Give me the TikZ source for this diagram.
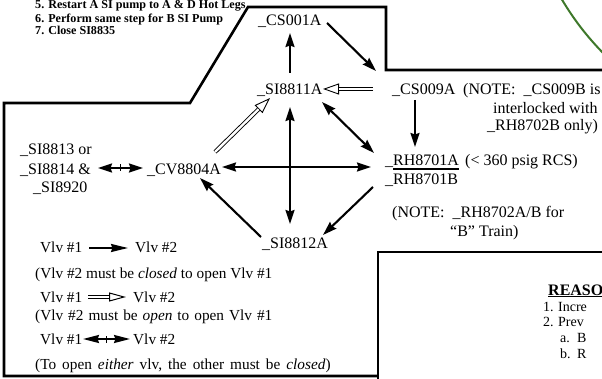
\documentclass[tikz,border=0pt]{standalone}
\usepackage{fontspec}
\setmainfont{Liberation Serif}
\usetikzlibrary{arrows.meta,calc}
\definecolor{arcgreen}{RGB}{62,120,42}
\begin{document}
\begin{tikzpicture}[x=1pt,y=-1pt,
  lbl/.style={inner sep=0pt, font=\fontsize{16}{19}\selectfont, anchor=base west},
  leg/.style={inner sep=0pt, font=\fontsize{15.3}{18}\selectfont, anchor=base west},
  topnote/.style={inner sep=0pt, font=\fontsize{12.1}{14}\selectfont\bfseries, anchor=base west},
  small/.style={inner sep=0pt, font=\fontsize{14}{16}\selectfont, anchor=base west},
  frame/.style={line width=2.6pt, line join=miter},
  arr/.style={line width=2.1pt, -{Stealth[length=14pt,width=9pt,inset=1.5pt]}},
  biarr/.style={line width=2.1pt, {Stealth[length=14pt,width=9pt,inset=1.5pt]}-{Stealth[length=14pt,width=9pt,inset=1.5pt]}},
  legarr/.style={line width=2pt, -{Stealth[length=17pt,width=8pt,inset=1.5pt]}},
  legbi/.style={line width=2pt, {Stealth[length=16pt,width=8pt,inset=1.5pt]}-{Stealth[length=16pt,width=8pt,inset=1.5pt]}},
  ohead/.style={line width=0.9pt, -{Triangle[open,length=16pt,width=11pt]}},
  oshaft/.style={line width=0.9pt, double=white, double distance=2.4pt, shorten >=16pt},
  oheadleg/.style={line width=1pt, -{Triangle[open,length=17pt,width=9pt]}},
  oshaftleg/.style={line width=1pt, double=white, double distance=2.2pt, shorten >=17pt},
  tick/.style={fill=black, inner sep=0pt, minimum width=1.3pt, minimum height=7pt},
]
\useasboundingbox (0,0) rectangle (602,379);
\clip (0,0) rectangle (602,379);

% outline
\draw[frame] (378,376) -- (4,376) -- (4,103) -- (190,103) -- (248,7) -- (386,7) -- (386,70) -- (606,70);
\draw[frame] (606,252) -- (378,252) -- (378,384);
\draw[arcgreen, line width=2pt] (561,-2) .. controls (574,20) and (588,38) .. (606,56);

% top notes
\node[topnote] (t5) at (35,9) {5. Restart A SI pump to A \& D Hot Legs};
\node[topnote] (t6) at (35,22.5) {6. Perform same step for B SI Pump};
\node[topnote] (t7) at (35,35) {7. Close SI8835};

% diagram labels
\node[lbl] (cs001) at (258,26) {\_CS001A};
\node[lbl] (si8811) at (257,95) {\_SI8811A};
\node[lbl] (cs009) at (392,95) {\_CS009A};
\node[lbl] (note1) at (463,95) {(NOTE:\ \ \_CS009B is};
\node[lbl] (note2) at (493,114) {interlocked with};
\node[lbl] (note3) at (487,131) {\_RH8702B only)};
\node[lbl] (rha) at (385,166) {\_RH8701A};
\node[lbl] (psig) at (465,166) {(< 360 psig RCS)};
\node[lbl] (rhb) at (385,185) {\_RH8701B};
\node[lbl] (note4) at (392,218) {(NOTE:\ \ \_RH8702A/B for};
\node[lbl] (note5) at (450,237) {“B” Train)};
\node[lbl] (si8812) at (262,249) {\_SI8812A};
\node[lbl] (cv8804) at (147,175) {\_CV8804A};
\node[lbl] (s13) at (20,155) {\_SI8813 or};
\node[lbl] (s14) at (20,175) {\_SI8814 \&};
\node[lbl] (s20) at (33,193) {\_SI8920};
\draw[line width=1.4pt] ($(rha.base west)+(8,3)$) -- ($(rha.base east)+(0,3)$);

% connectors
\draw[arr] ($(cs001.base west)+(69,-3)$) -- ($(cs009.base west)+(-16,-24)$);
\draw[arr] ($(si8811.base west)+(33,-22)$) -- ($(cs001.base west)+(32,7)$);
\draw[ohead] ($(cs009.base west)+(-19,-6)$) -- ($(si8811.base west)+(66,-6)$);
\draw[oshaft] ($(cs009.base west)+(-19,-6)$) -- ($(si8811.base west)+(66,-6)$);
\draw[biarr] ($(si8811.base west)+(65,7)$) -- ($(rha.base west)+(-11,-13)$);
\draw[ohead] ($(cv8804.base west)+(68,-23)$) -- ($(si8811.base west)+(13,3)$);
\draw[oshaft] ($(cv8804.base west)+(68,-23)$) -- ($(si8811.base west)+(13,3)$);
\draw[biarr] ($(si8811.base west)+(33,12)$) -- ($(si8812.base west)+(28,-25)$);
\draw[biarr] ($(cv8804.base west)+(75,-8)$) -- ($(rha.base west)+(-14,1)$);
\draw[arr] ($(si8812.base west)+(-1,-12)$) -- ($(cv8804.base west)+(53,3)$);
\draw[arr] ($(rha.base west)+(-12,21)$) -- ($(si8812.base west)+(61,-14)$);
\draw[arr] ($(cs009.base west)+(23,5)$) -- ($(rha.base west)+(30,-19)$);
\draw[biarr] ($(s14.base west)+(78,-7)$) -- ($(cv8804.base west)+(-4,-7)$) node[midway, tick] (tk1) {};

% legend
\node[leg] (v1a) at (40,253) {Vlv \#1};
\node[leg] (v2a) at (135,253) {Vlv \#2};
\draw[legarr] ($(v1a.base west)+(49,-5)$) -- ($(v2a.base west)+(-7,-5)$);
\node[leg] (l2) at (35,278) {(Vlv \#2 must be \textit{closed} to open Vlv \#1};
\node[leg] (v1b) at (40,302) {Vlv \#1};
\node[leg] (v2b) at (133,302) {Vlv \#2};
\draw[oheadleg] ($(v1b.base west)+(48,-5)$) -- ($(v2b.base west)+(-7,-5)$);
\draw[oshaftleg] ($(v1b.base west)+(48,-5)$) -- ($(v2b.base west)+(-7,-5)$);
\node[leg] (l4) at (35,320) {\spaceskip=5pt plus 1pt (Vlv \#2 must be \textit{open} to open Vlv \#1};
\node[leg] (v1c) at (40,344) {Vlv \#1};
\node[leg] (v2c) at (133,344) {Vlv \#2};
\draw[legbi] ($(v1c.base west)+(43,-5)$) -- ($(v2c.base west)+(-3,-5)$) node[midway, tick] (tk2) {};
\node[leg] (l6) at (35,369) {\spaceskip=6pt plus 1pt (To open \textit{either} vlv, the other must be \textit{closed})};

% reasons box
\node[inner sep=0pt, font=\fontsize{16}{19}\selectfont\bfseries, anchor=base west] (reas) at (548,295) {\underline{REASO}};
\node[small] (r1) at (543,311) {\makebox[15pt][l]{1.}Incre};
\node[small] (r2) at (543,326) {\makebox[15pt][l]{2.}Prev};
\node[small] (ra) at (560,342) {\makebox[17pt][l]{a.}B};
\node[small] (rb) at (560,358) {\makebox[17pt][l]{b.}R};
\end{tikzpicture}
\end{document}
